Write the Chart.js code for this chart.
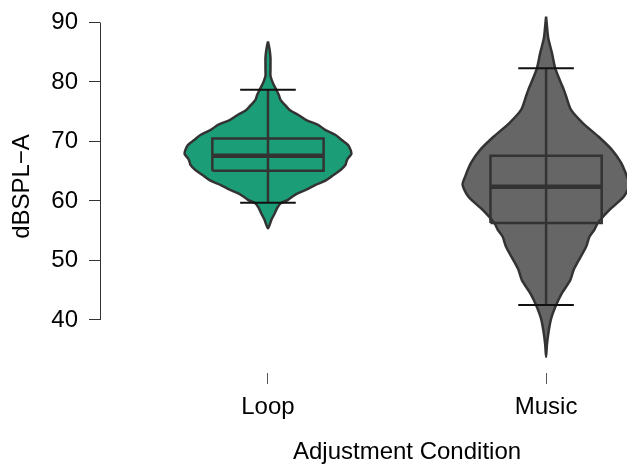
<!DOCTYPE html>
<html>
<head>
<meta charset="utf-8">
<script src="https://cdn.jsdelivr.net/npm/chart.js@4.4.1/dist/chart.umd.min.js"></script>
<style>
  html, body { margin: 0; padding: 0; background: #ffffff; }
  #wrap { width: 627px; height: 465px; }
</style>
</head>
<body>
<div id="wrap"><canvas id="chart" width="627" height="465"></canvas></div>
<script>
// Groups along the horizontal axis
const categories = ['Loop', 'Music'];
const groupPositions = [1, 2];
const violinColors = ['#1B9E77', '#666666'];
const yTickValues = [40, 50, 60, 70, 80, 90];

// Kernel density outlines: sound level (dBSPL-A) and relative density (1 = widest)
const loopLevels  = [86.8, 85.4, 84.0, 83.0, 82.0, 81.0, 79.8, 78.7, 77.8, 77.0, 76.2, 75.3, 74.5, 73.6, 72.8, 72.0, 71.1, 70.3, 69.4, 68.6, 67.9, 67.2, 66.6, 66.1, 65.2, 64.4, 63.5, 62.7, 61.9, 61.0, 60.2, 59.6, 58.8, 57.9, 56.8, 55.4];
const loopDensity = [0, 0.02, 0.03, 0.03, 0.03, 0.03, 0.06, 0.10, 0.13, 0.15, 0.20, 0.26, 0.36, 0.46, 0.60, 0.68, 0.81, 0.88, 0.96, 0.99, 1.00, 0.96, 0.94, 0.93, 0.87, 0.79, 0.70, 0.57, 0.46, 0.32, 0.24, 0.15, 0.11, 0.08, 0.04, 0];

const musicLevels  = [91.0, 89.5, 88.0, 87.1, 84.9, 82.3, 79.8, 78.8, 77.6, 75.3, 73.1, 70.8, 68.6, 66.4, 64.1, 62.7, 60.7, 58.5, 56.3, 55.2, 54.0, 52.3, 49.5, 48.4, 46.7, 44.5, 42.2, 40.2, 38.0, 35.8, 33.8];
const musicDensity = [0, 0.01, 0.02, 0.03, 0.07, 0.11, 0.18, 0.21, 0.24, 0.30, 0.44, 0.63, 0.79, 0.90, 0.97, 1.00, 0.93, 0.76, 0.62, 0.58, 0.52, 0.48, 0.37, 0.33, 0.29, 0.19, 0.11, 0.06, 0.03, 0.01, 0];

// Box plot summaries: lower whisker, Q1, median, Q3, upper whisker
const loopStats  = [59.7, 65.1, 67.6, 70.5, 78.7];
const musicStats = [42.5, 56.3, 62.4, 67.6, 82.3];

const groups = [
  { levels: loopLevels,  density: loopDensity,  stats: loopStats },
  { levels: musicLevels, density: musicDensity, stats: musicStats }
];

// Half widths in axis units
const VIOLIN_HALF = 0.3;
const BOX_HALF = 0.2;
const CAP_HALF = 0.1;
const INK = '#333333';
const FONT = '"Liberation Sans", Arial, Helvetica, sans-serif';

function violinOutline(center, levels, density) {
  const right = levels.map((v, i) => ({ x: center + VIOLIN_HALF * density[i], y: v }));
  const left = levels.map((v, i) => ({ x: center - VIOLIN_HALF * density[i], y: v })).reverse().slice(1);
  return right.concat(left);
}

function segment(x0, y0, x1, y1) {
  return [{ x: x0, y: y0 }, { x: x1, y: y1 }];
}

const layers = [];
groups.forEach((g, gi) => {
  const c = groupPositions[gi];
  const [lo, q1, med, q3, hi] = g.stats;
  layers.push({
    data: violinOutline(c, g.levels, g.density),
    fill: 'shape', backgroundColor: violinColors[gi],
    borderColor: INK, borderWidth: 2.5, tension: 0.25
  });
  layers.push({ data: segment(c, lo, c, hi), borderColor: INK, borderWidth: 2.5 });
  layers.push({
    data: [{ x: c - BOX_HALF, y: q1 }, { x: c + BOX_HALF, y: q1 }, { x: c + BOX_HALF, y: q3 },
           { x: c - BOX_HALF, y: q3 }, { x: c - BOX_HALF, y: q1 }],
    borderColor: INK, borderWidth: 2.5, borderJoinStyle: 'miter'
  });
  layers.push({ data: segment(c - BOX_HALF, med, c + BOX_HALF, med), borderColor: INK, borderWidth: 4.5 });
  layers.push({ data: segment(c - CAP_HALF, hi, c + CAP_HALF, hi), borderColor: '#111111', borderWidth: 2 });
  layers.push({ data: segment(c - CAP_HALF, lo, c + CAP_HALF, lo), borderColor: '#111111', borderWidth: 2 });
});

const datasets = layers.map((d, i) => Object.assign({
  showLine: true, fill: false, pointRadius: 0, pointHoverRadius: 0,
  tension: 0, clip: false, order: layers.length - i
}, d));

// Axis line spanning only the labelled range, plus the horizontal axis title
const axisDecor = {
  id: 'axisDecor',
  beforeDatasetsDraw(chart) {
    const { ctx, scales: { y } } = chart;
    const x = Math.round(y.right) + 0.5;
    ctx.save();
    ctx.strokeStyle = INK;
    ctx.lineWidth = 1;
    ctx.beginPath();
    ctx.moveTo(x, y.getPixelForValue(yTickValues[0]));
    ctx.lineTo(x, y.getPixelForValue(yTickValues[yTickValues.length - 1]));
    ctx.stroke();
    ctx.restore();
  },
  afterDraw(chart) {
    const { ctx, scales: { x } } = chart;
    const cx = (x.getPixelForValue(groupPositions[0]) + x.getPixelForValue(groupPositions[groupPositions.length - 1])) / 2;
    ctx.save();
    ctx.fillStyle = '#000000';
    ctx.font = '24px ' + FONT;
    ctx.textAlign = 'center';
    ctx.textBaseline = 'middle';
    ctx.fillText('Adjustment Condition', cx, x.bottom - 13);
    ctx.restore();
  }
};

new Chart(document.getElementById('chart'), {
  type: 'scatter',
  data: { datasets },
  options: {
    responsive: false,
    animation: false,
    devicePixelRatio: 1,
    events: [],
    layout: { padding: 0 },
    plugins: {
      legend: { display: false },
      tooltip: { enabled: false },
      filler: { propagate: false }
    },
    scales: {
      x: {
        type: 'linear',
        min: 0.396,
        max: 2.291,
        afterBuildTicks: (s) => { s.ticks = groupPositions.map(v => ({ value: v })); },
        afterFit: (s) => { s.height = 92; s.paddingLeft = 0; s.paddingRight = 0; },
        border: { display: false },
        grid: { drawOnChartArea: false, drawTicks: true, tickLength: 11, color: '#555555', lineWidth: 1 },
        ticks: {
          padding: 9, color: '#000000', autoSkip: false, maxRotation: 0,
          font: { family: FONT, size: 24 },
          callback: (v, i) => categories[i]
        }
      },
      y: {
        type: 'linear',
        min: 31.09,
        max: 93.78,
        afterBuildTicks: (s) => { s.ticks = yTickValues.map(v => ({ value: v })); },
        afterFit: (s) => { s.width = 100; s.paddingTop = 0; s.paddingBottom = 0; },
        border: { display: false },
        grid: { drawOnChartArea: false, drawTicks: true, tickLength: 11, color: INK, lineWidth: 1 },
        ticks: { padding: 11, color: '#000000', font: { family: FONT, size: 24 } },
        title: {
          display: true, text: 'dBSPL\u2212A', color: '#000000',
          font: { family: FONT, size: 24 }, padding: { top: 7.5, bottom: 0 }
        }
      }
    }
  },
  plugins: [axisDecor]
});
</script>
</body>
</html>
